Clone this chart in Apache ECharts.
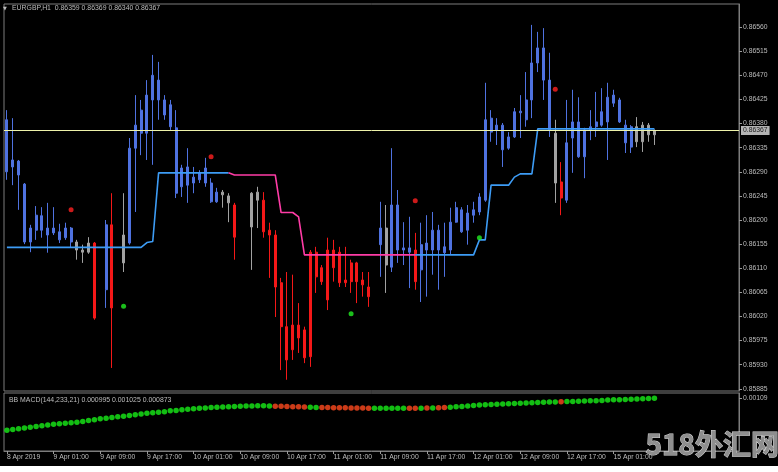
<!DOCTYPE html>
<html><head><meta charset="utf-8">
<script src="https://cdn.jsdelivr.net/npm/echarts@6/dist/echarts.min.js"></script>
<style>html,body{margin:0;padding:0;background:#fff;}#c{width:778px;height:472px;}</style>
</head><body><div id="c"></div>
<script>
// ---------- data ----------
const timeLabels = ['8 Apr 2019','9 Apr 01:00','9 Apr 09:00','9 Apr 17:00','10 Apr 01:00','10 Apr 09:00','10 Apr 17:00','11 Apr 01:00','11 Apr 09:00','11 Apr 17:00','12 Apr 01:00','12 Apr 09:00','12 Apr 17:00','15 Apr 01:00'];
const priceTicks = [0.85885,0.85930,0.85975,0.86020,0.86065,0.86110,0.86155,0.86200,0.86245,0.86290,0.86335,0.86380,0.86425,0.86470,0.86515,0.86560];
const macdTicks = [0.00109];
const lastPrice = 0.86367;

const barOpen = [0.86290,0.86299,0.86284,0.86159,0.86159,0.86181,0.86181,0.86172,0.86176,0.86163,0.86167,0.86159,0.86159,0.86144,0.86157,0.86157,null,0.86070,0.86191,null,
0.86172,0.86157,0.86334,0.86362,0.86362,0.86424,0.86424,0.86396,0.86374,0.86250,0.86262,0.86265,0.86269,0.86275,0.86269,0.86234,0.86234,0.86252,0.86245,0.86228,
null,null,0.86250,0.86252,0.86237,0.86181,0.86172,0.86083,0.86001,0.86004,0.86004,0.85995,0.86140,0.86140,0.86111,0.86144,0.86144,0.86140,0.86088,0.86120,
0.86120,0.86088,0.86075,null,0.86154,0.86185,0.86112,0.86144,0.86144,0.86140,0.86144,0.86107,0.86144,0.86144,0.86144,0.86139,0.86144,0.86196,0.86178,0.86181,
0.86209,0.86215,0.86237,0.86364,0.86368,0.86331,0.86334,0.86355,0.86400,0.86387,0.86424,0.86493,0.86461,0.86368,0.86362,0.86271,0.86237,0.86353,0.86318,0.86318,
0.86368,0.86374,0.86377,0.86383,0.86418,0.86383,0.86344,0.86336,0.86374,0.86377,0.86377,0.86359];
const barHigh = [0.86405,0.86390,0.86312,0.86269,0.86191,0.86226,0.86224,0.86232,0.86224,0.86193,0.86195,0.86187,0.86163,0.86154,0.86168,0.86159,null,0.86200,0.86250,null,
0.86250,0.86353,0.86433,0.86424,0.86461,0.86508,0.86495,0.86433,0.86424,0.86405,0.86303,0.86334,0.86299,0.86293,0.86316,0.86278,0.86260,0.86256,0.86250,0.86232,
null,null,0.86252,0.86262,0.86252,0.86195,0.86181,0.86092,0.86103,0.86098,0.86045,0.86001,0.86144,0.86150,0.86116,0.86167,0.86163,0.86150,0.86150,0.86126,
0.86122,0.86103,0.86103,null,0.86234,0.86228,0.86334,0.86256,0.86196,0.86206,0.86176,0.86195,0.86209,0.86215,0.86191,0.86195,0.86223,0.86234,0.86224,0.86228,
0.86234,0.86250,0.86456,0.86405,0.86390,0.86381,0.86364,0.86409,0.86433,0.86476,0.86564,0.86551,0.86558,0.86512,0.86387,0.86308,0.86424,0.86443,0.86429,0.86372,
0.86405,0.86439,0.86446,0.86456,0.86443,0.86428,0.86387,0.86377,0.86392,0.86383,0.86381,0.86369];
const barLow = [0.86275,0.86265,0.86219,0.86155,0.86140,0.86163,0.86167,0.86139,0.86172,0.86157,0.86163,0.86148,0.86126,0.86120,0.86137,0.86014,null,0.86036,0.85924,null,
0.86103,0.86154,0.86215,0.86321,0.86312,0.86303,0.86387,0.86387,0.86368,0.86241,0.86243,0.86232,0.86250,0.86269,0.86262,0.86232,0.86232,0.86223,0.86196,0.86126,
null,null,0.86107,0.86185,0.86167,0.86092,0.86019,0.85920,0.85902,0.85939,0.85952,0.85933,0.85926,0.86064,0.86079,0.86032,0.86085,0.86075,0.86075,0.86064,
0.86045,0.86057,0.86038,null,0.86094,0.86064,0.86103,0.86120,0.86116,0.86073,0.86070,0.86047,0.86057,0.86098,0.86070,0.86094,0.86135,0.86195,0.86176,0.86154,
0.86195,0.86209,0.86234,0.86346,0.86340,0.86299,0.86331,0.86353,0.86353,0.86374,0.86390,0.86476,0.86424,0.86355,0.86232,0.86209,0.86232,0.86288,0.86316,0.86278,
0.86349,0.86355,0.86374,0.86312,0.86411,0.86381,0.86325,0.86325,0.86336,0.86327,0.86346,0.86340];
const barClose = [0.86387,0.86312,0.86310,0.86267,0.86185,0.86209,0.86208,0.86185,0.86185,0.86178,0.86185,0.86185,0.86144,0.86140,0.86140,0.86017,null,0.86191,0.86036,null,
0.86120,0.86334,0.86377,0.86405,0.86433,0.86470,0.86461,0.86424,0.86415,0.86372,0.86297,0.86299,0.86280,0.86288,0.86297,0.86269,0.86252,0.86247,0.86232,0.86168,
null,null,0.86187,0.86237,0.86178,0.86172,0.86075,0.86001,0.85939,0.85958,0.85980,0.85943,0.85945,0.86094,0.86085,0.86051,0.86111,0.86083,0.86083,0.86085,
0.86085,0.86079,0.86057,null,0.86185,0.86116,0.86228,0.86228,0.86148,0.86148,0.86085,0.86154,0.86157,0.86181,0.86181,0.86150,0.86196,0.86223,0.86219,0.86213,
0.86219,0.86243,0.86387,0.86390,0.86377,0.86377,0.86355,0.86402,0.86403,0.86424,0.86493,0.86521,0.86521,0.86461,0.86269,0.86241,0.86344,0.86383,0.86383,0.86368,
0.86374,0.86383,0.86402,0.86429,0.86433,0.86424,0.86377,0.86374,0.86346,0.86346,0.86359,0.86367];
// b = blue, r = red, g = grey, - = no visible bar
const barColorCode = ('bbbbbbbbbbbb'+'ggg'+'r-br-g'+'bbbbbbbbbbbbbbbb'+'ggr--gg'+'rrrrrrrrrrrrrrrrrrr'+'-bgbbbbr'+'bbbbbbbbbbbbbbbbbbbbbbb'+'gr'+'bbbbbbbbbbbb'+'gggg').split('');

const stepLine = [0.86149,0.86149,0.86149,0.86149,0.86149,0.86149,0.86149,0.86149,0.86149,0.86149,0.86149,0.86149,0.86149,0.86149,0.86149,0.86149,0.86149,0.86149,0.86149,0.86149,
0.86149,0.86149,0.86149,0.86149,0.86158,0.86160,0.86288,0.86288,0.86288,0.86288,0.86288,0.86288,0.86288,0.86288,0.86288,0.86288,0.86288,0.86288,0.86288,0.86284,
0.86284,0.86284,0.86284,0.86284,0.86284,0.86284,0.86284,0.86214,0.86214,0.86214,0.86206,0.86135,0.86135,0.86135,0.86135,0.86135,0.86135,0.86135,0.86135,0.86135,
0.86135,0.86135,0.86135,0.86135,0.86135,0.86135,0.86135,0.86135,0.86135,0.86135,0.86135,0.86135,0.86135,0.86135,0.86135,0.86135,0.86135,0.86135,0.86135,0.86135,
0.86135,0.86163,0.86163,0.86265,0.86265,0.86265,0.86265,0.86280,0.86286,0.86286,0.86286,0.86370,0.86370,0.86370,0.86370,0.86370,0.86370,0.86370,0.86370,0.86370,
0.86370,0.86370,0.86370,0.86370,0.86370,0.86370,0.86370,0.86370,0.86370,0.86370,0.86370,0.86370];
// b = blue segment, m = magenta segment
const stepLineColor = ('b'.repeat(39)+'m'.repeat(32)+'b'.repeat(41)).split('');

const upSignals = [[20,0.86039],[59,0.86025],[81,0.86167]];
const downSignals = [[11,0.86219],[35,0.86318],[70,0.86236],[94,0.86444]];

const macdValues = [0.000716,0.000725,0.000734,0.000742,0.000751,0.000760,0.000768,0.000777,0.000786,0.000792,0.000798,0.000804,0.000810,0.000820,0.000830,0.000840,0.000851,0.000858,0.000866,0.000874,
0.000881,0.000890,0.000899,0.000908,0.000916,0.000922,0.000928,0.000934,0.000945,0.000950,0.000956,0.000962,0.000969,0.000974,0.000979,0.000983,0.000987,0.000990,0.000993,0.000996,
0.000999,0.001001,0.001003,0.001004,0.001004,0.001002,0.001000,0.000998,0.000996,0.000994,0.000992,0.000990,0.000987,0.000985,0.000984,0.000983,0.000982,0.000981,0.000980,0.000979,
0.000978,0.000977,0.000976,0.000975,0.000975,0.000975,0.000975,0.000975,0.000975,0.000975,0.000975,0.000976,0.000977,0.000978,0.000980,0.000983,0.000987,0.000992,0.000997,0.001002,
0.001008,0.001013,0.001017,0.001020,0.001023,0.001026,0.001028,0.001031,0.001034,0.001037,0.001040,0.001043,0.001046,0.001048,0.001050,0.001052,0.001054,0.001056,0.001058,0.001060,
0.001063,0.001065,0.001068,0.001071,0.001074,0.001076,0.001078,0.001081,0.001084,0.001087,0.001090,0.001093];
const macdColorCode = ('g'.repeat(46)+'r'.repeat(6)+'gg'+'r'.repeat(9)+'g'.repeat(6)+'rr'+'g'+'r'+'g'+'rr'+'g'.repeat(19)+'r'+'g'.repeat(16)).split('');

// ---------- build ----------
const TOTAL_SLOTS = 126;
const cats = [];
for (let i = 0; i < TOTAL_SLOTS; i++) cats.push(String(i));

const COL = {b:'#4f72e0', r:'#f41818', g:'#a2a2a2'};
const candleData = barOpen.map((o, i) => {
  if (o === null) return {value:['-','-','-','-']};
  const c = COL[barColorCode[i]] || '#a2a2a2';
  return {value:[o, barClose[i], barLow[i], barHigh[i]],
          itemStyle:{color:c, color0:c, borderColor:c, borderColor0:c, borderWidth:1}};
});

const blueLine = stepLine.map((v,i)=> (stepLineColor[i]==='b' || stepLineColor[i+1]==='b') ? v : '-');
const magLine = stepLine.map((v,i)=> (stepLineColor[i]==='m' || stepLineColor[i+1]==='m') ? v : '-');

const macdData = macdValues.map((v,i)=>({value:[i,v], itemStyle:{color: macdColorCode[i]==='r' ? '#ff4a1e' : '#18ee18'}}));

const FONT = 'Liberation Sans';
const TXT = '#bdbdbd';
const showTick = (idx) => idx % 8 === 0 && idx / 8 < timeLabels.length;

const chart = echarts.init(document.getElementById('c'), null, {renderer:'canvas'});
chart.setOption({
  animation:false,
  backgroundColor:'#000000',
  grid:[
    {left:4, right:39, top:4, height:387, show:true, borderColor:'#7c7c7c', borderWidth:1},
    {left:4, right:39, top:393, height:58, show:true, borderColor:'#7c7c7c', borderWidth:1}
  ],
  xAxis:[
    {type:'category', gridIndex:0, data:cats, boundaryGap:true, axisLine:{show:false}, axisTick:{show:false}, axisLabel:{show:false}, splitLine:{show:false}},
    {type:'category', gridIndex:1, data:cats, boundaryGap:true,
     axisLine:{show:true, lineStyle:{color:'#7c7c7c'}},
     axisTick:{show:true, alignWithLabel:true, interval:(idx)=>showTick(idx), length:3, lineStyle:{color:'#9a9a9a'}},
     axisLabel:{show:true, interval:(idx)=>showTick(idx), formatter:(v,idx)=>timeLabels[idx/8], align:'left', margin:3, color:TXT, fontSize:6.8, fontFamily:FONT},
     splitLine:{show:false}}
  ],
  yAxis:[
    {type:'value', gridIndex:0, position:'right', min:0.85881, max:0.86603, scale:true,
     axisLine:{show:true, lineStyle:{color:'#7c7c7c'}},
     axisTick:{show:true, customValues:priceTicks, length:3, lineStyle:{color:'#9a9a9a'}},
     axisLabel:{show:true, customValues:priceTicks, formatter:v=>v.toFixed(5), margin:4, color:TXT, fontSize:6.8, fontFamily:FONT},
     splitLine:{show:false}},
    {type:'value', gridIndex:1, position:'right', min:0.000471, max:0.001155,
     axisLine:{show:true, lineStyle:{color:'#7c7c7c'}},
     axisTick:{show:true, customValues:macdTicks, length:3, lineStyle:{color:'#9a9a9a'}},
     axisLabel:{show:true, customValues:macdTicks, formatter:v=>v.toFixed(5), margin:4, color:TXT, fontSize:6.8, fontFamily:FONT},
     splitLine:{show:false}}
  ],
  series:[
    {type:'candlestick', xAxisIndex:0, yAxisIndex:0, data:candleData, barWidth:2.4, silent:true, z:2,
     markLine:{silent:true, symbol:['none','none'], precision:5,
       lineStyle:{color:'#eef3aa', width:1, type:'solid'},
       label:{show:true, position:'end', formatter:()=>lastPrice.toFixed(5), backgroundColor:'#b4b4b4', color:'#202020', fontSize:6.8, fontFamily:FONT, padding:[1,2,1,2], distance:2},
       data:[{yAxis:lastPrice}]}},
    {type:'line', xAxisIndex:0, yAxisIndex:0, data:blueLine, showSymbol:false, symbol:'none', lineStyle:{color:'#3d9cf5', width:1.6}, z:3, silent:true},
    {type:'line', xAxisIndex:0, yAxisIndex:0, data:magLine, showSymbol:false, symbol:'none', lineStyle:{color:'#ff3ca6', width:1.6}, z:3, silent:true},
    {type:'scatter', xAxisIndex:0, yAxisIndex:0, data:downSignals, symbolSize:5, itemStyle:{color:'#ff2020'}, z:4, silent:true},
    {type:'scatter', xAxisIndex:0, yAxisIndex:0, data:upSignals, symbolSize:5, itemStyle:{color:'#22ee22'}, z:4, silent:true},
    {type:'scatter', xAxisIndex:1, yAxisIndex:1, data:macdData, symbolSize:5.5, z:4, silent:true}
  ],
  graphic:[
    {type:'text', left:3, top:6, style:{text:'▼', fill:TXT, font:'5px "DejaVu Sans"'}},
    {type:'text', left:12, top:5, style:{text:'EURGBP,H1  0.86359 0.86369 0.86340 0.86367', fill:TXT, font:'6.9px "'+FONT+'"'}},
    {type:'text', left:9, top:397, style:{text:'BB MACD(144,233,21) 0.000995 0.001025 0.000873', fill:TXT, font:'6.9px "'+FONT+'"'}},
    {type:'rect', left:0, top:466, shape:{width:778, height:6}, style:{fill:'#ffffff'}},
    {type:'text', left:645, top:430, z:100, style:{text:'518外汇网', fill:'#8e8e8e', stroke:'#d8d8d8', lineWidth:1, font:'bold 28px "Noto Sans CJK SC"'}}
  ]
});
</script></body></html>
